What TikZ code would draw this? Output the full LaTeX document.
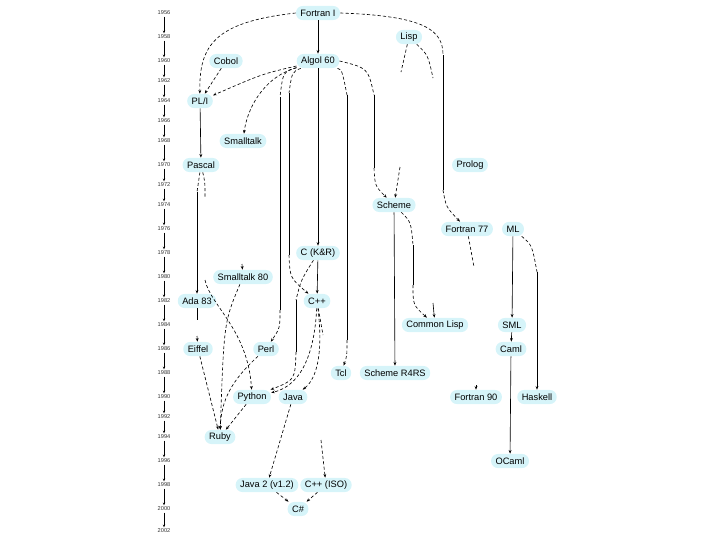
\documentclass[tikz,border=0pt]{standalone}
\usepackage{fontspec}
\setmainfont{Liberation Sans}
\usetikzlibrary{arrows.meta}
\definecolor{langcyan}{RGB}{214,244,249}

\begin{document}
\begin{tikzpicture}[
    x=0.025cm, y=-0.025cm,
    lang/.style={rectangle, rounded corners=4.8pt, fill=langcyan,
        minimum height=10pt, inner xsep=3.2pt, inner ysep=0pt,
        font=\fontsize{6.6}{7}\selectfont},
    year/.style={inner sep=1pt, font=\fontsize{4}{4}\selectfont,
        text=black!80},
    timeline/.style={draw=black, line width=0.5pt,
        -{Stealth[length=2pt,width=1.6pt]}},
    trunk/.style={draw=black, line width=0.45pt},
    link/.style={draw=black, line width=0.45pt,
        dash pattern=on 2.2pt off 1.6pt},
    headed/.style={-{Stealth[length=2.6pt,width=2pt]}}
]
\useasboundingbox (0,0) rectangle (720,540);

% time axis
\node[year] (y1956) at (164, 13) {1956};
\node[year] (y1958) at (164, 37) {1958};
\node[year] (y1960) at (164, 61) {1960};
\node[year] (y1962) at (164, 81) {1962};
\node[year] (y1964) at (164,101) {1964};
\node[year] (y1966) at (164,121) {1966};
\node[year] (y1968) at (164,141) {1968};
\node[year] (y1970) at (164,165) {1970};
\node[year] (y1972) at (164,185) {1972};
\node[year] (y1974) at (164,205) {1974};
\node[year] (y1976) at (164,229) {1976};
\node[year] (y1978) at (164,253) {1978};
\node[year] (y1980) at (164,277) {1980};
\node[year] (y1982) at (164,301) {1982};
\node[year] (y1984) at (164,325) {1984};
\node[year] (y1986) at (164,349) {1986};
\node[year] (y1988) at (164,373) {1988};
\node[year] (y1990) at (164,397) {1990};
\node[year] (y1992) at (164,417) {1992};
\node[year] (y1994) at (164,437) {1994};
\node[year] (y1996) at (164,461) {1996};
\node[year] (y1998) at (164,485) {1998};
\node[year] (y2000) at (164,509) {2000};
\node[year] (y2002) at (164,531) {2002};
\draw[timeline] (y1956) -- (y1958);
\draw[timeline] (y1958) -- (y1960);
\draw[timeline] (y1960) -- (y1962);
\draw[timeline] (y1962) -- (y1964);
\draw[timeline] (y1964) -- (y1966);
\draw[timeline] (y1966) -- (y1968);
\draw[timeline] (y1968) -- (y1970);
\draw[timeline] (y1970) -- (y1972);
\draw[timeline] (y1972) -- (y1974);
\draw[timeline] (y1974) -- (y1976);
\draw[timeline] (y1976) -- (y1978);
\draw[timeline] (y1978) -- (y1980);
\draw[timeline] (y1980) -- (y1982);
\draw[timeline] (y1982) -- (y1984);
\draw[timeline] (y1984) -- (y1986);
\draw[timeline] (y1986) -- (y1988);
\draw[timeline] (y1988) -- (y1990);
\draw[timeline] (y1990) -- (y1992);
\draw[timeline] (y1992) -- (y1994);
\draw[timeline] (y1994) -- (y1996);
\draw[timeline] (y1996) -- (y1998);
\draw[timeline] (y1998) -- (y2000);
\draw[timeline] (y2000) -- (y2002);

% languages
\node[lang] (fortranI)  at (318, 13) {Fortran I};
\node[lang] (lisp)      at (409, 37) {Lisp};
\node[lang] (cobol)     at (226, 61) {Cobol};
\node[lang] (algol)     at (318, 61) {Algol 60};
\node[lang] (pli)       at (200,101) {PL/I};
\node[lang] (smalltalk) at (243,141) {Smalltalk};
\node[lang] (pascal)    at (201,165) {Pascal};
\node[lang] (prolog)    at (470,165) {Prolog};
\node[lang] (scheme)    at (394,205) {Scheme};
\node[lang] (fortranS)  at (467,229) {Fortran 77};
\node[lang] (ml)        at (513,229) {ML};
\node[lang] (ckr)       at (318,253) {C (K\&R)};
\node[lang] (st80)      at (243,277) {Smalltalk 80};
\node[lang] (ada)       at (197,301) {Ada 83};
\node[lang] (cpp)       at (317,301) {C++};
\node[lang] (clisp)     at (435,325) {Common Lisp};
\node[lang] (sml)       at (512,325) {SML};
\node[lang] (eiffel)    at (198,349) {Eiffel};
\node[lang] (perl)      at (266,349) {Perl};
\node[lang] (caml)      at (511,349) {Caml};
\node[lang] (tcl)       at (341,373) {Tcl};
\node[lang] (r4rs)      at (395,373) {Scheme R4RS};
\node[lang] (python)    at (252,397) {Python};
\node[lang] (java)      at (293,397) {Java};
\node[lang] (f90)       at (476,397) {Fortran 90};
\node[lang] (haskell)   at (537,397) {Haskell};
\node[lang] (ruby)      at (220,437) {Ruby};
\node[lang] (ocaml)     at (510,461) {OCaml};
\node[lang] (java2)     at (267,485) {Java 2 (v1.2)};
\node[lang] (cppiso)    at (326,485) {C++ (ISO)};
\node[lang] (csharp)    at (298,509) {C\#};

% bends and loose ends of the long connectors
\coordinate (f77A) at (443, 55);  \coordinate (f77B) at (443,190);
\coordinate (perlA) at (280, 97); \coordinate (perlB) at (280,310);
\coordinate (cppA) at (289, 93);  \coordinate (cppB) at (289,255);
\coordinate (pyA) at (296,300);   \coordinate (pyB) at (296,352);
\coordinate (tclA) at (347, 95);  \coordinate (tclB) at (347,340);
\coordinate (schA) at (374, 95);  \coordinate (schB) at (374,168);
\coordinate (lsA) at (401, 72);   \coordinate (lsB) at (400,167);
\coordinate (lcA) at (433, 78);   \coordinate (lcB) at (433,303);
\coordinate (scA) at (413,245);   \coordinate (scB) at (413,285);
\coordinate (ffA) at (474,267);   \coordinate (ffB) at (476,385);
\coordinate (hsA) at (537,272);
\coordinate (adaA) at (197,192);
\coordinate (aeA) at (197,320);   \coordinate (aeB) at (197,336);
\coordinate (ppA) at (205,197);   \coordinate (ppB) at (205,280);
\coordinate (ssA) at (242,264);
\coordinate (isoA) at (323,335);  \coordinate (isoB) at (321,440);

\draw[trunk, headed] (fortranI) -- (algol);
\draw[trunk, headed] (algol) -- (ckr);
\draw[trunk, headed] (ckr) -- (cpp);
\draw[link, headed] (fortranI.west) .. controls (215,22) and (199,45) .. (pli);
\draw[link] (fortranI.east) .. controls (425,16) and (443,30) .. (f77A);
\draw[trunk] (f77A) -- (f77B);
\draw[link, headed] (f77B) .. controls (446,207) .. (fortranS);
\draw[link, headed] (cobol) -- (pli);
\draw[link, headed] (algol) .. controls (262,74) .. (pli);
\draw[link, headed] (algol) .. controls (262,78) and (247,110) .. (smalltalk);
\draw[link] (algol) .. controls (283,72) .. (perlA);
\draw[trunk] (perlA) -- (perlB);
\draw[link, headed] (perlB) .. controls (280,328) .. (perl);
\draw[link] (algol) .. controls (292,72) .. (cppA);
\draw[trunk] (cppA) -- (cppB);
\draw[link, headed] (cppB) .. controls (290,278) .. (cpp);
\draw[link] (ckr) .. controls (301,280) .. (pyA);
\draw[trunk] (pyA) -- (pyB);
\draw[link, headed] (pyB) .. controls (295,380) .. (python);
\draw[link] (algol) .. controls (342,70) .. (tclA);
\draw[trunk] (tclA) -- (tclB);
\draw[link, headed] (tclB) .. controls (347,356) .. (tcl);
\draw[link] (algol.east) .. controls (368,68) .. (schA);
\draw[trunk] (schA) -- (schB);
\draw[link, headed] (schB) .. controls (375,186) .. (scheme);
\draw[link] (lisp) -- (lsA);
\draw[link, headed] (lsB) -- (scheme);
\draw[link] (lisp) .. controls (428,55) .. (lcA);
\draw[trunk, headed] (lcB) -- (clisp);
\draw[link] (scheme) .. controls (411,222) .. (scA);
\draw[trunk] (scA) -- (scB);
\draw[link, headed] (scB) .. controls (413,305) .. (clisp);
\draw[trunk, headed] (scheme) -- (r4rs);
\draw[link] (fortranS) -- (ffA);
\draw[trunk, headed] (ffB) -- (f90);
\draw[trunk, headed] (ml) -- (sml);
\draw[link] (ml) .. controls (532,245) .. (hsA);
\draw[trunk, headed] (hsA) -- (haskell);
\draw[trunk, headed] (sml) -- (caml);
\draw[trunk, headed] (caml) -- (ocaml);
\draw[trunk, headed] (pli) -- (pascal);
\draw[link] (pascal) -- (adaA);
\draw[trunk, headed] (adaA) -- (ada);
\draw[trunk] (ada) -- (aeA);
\draw[trunk, headed] (aeB) -- (eiffel);
\draw[link] (pascal) .. controls (205,182) .. (ppA);
\draw[link, headed] (ppB) .. controls (210,305) and (248,330) .. (python);
\draw[trunk, headed] (ssA) -- (st80);
\draw[link, headed] (st80) .. controls (224,322) .. (ruby);
\draw[link, headed] (eiffel) -- (ruby);
\draw[link, headed] (perl) .. controls (232,380) and (221,400) .. (ruby);
\draw[link, headed] (python) -- (ruby);
\draw[link, headed] (cpp) .. controls (315,345) and (305,385) .. (python);
\draw[link, headed] (cpp) .. controls (323,350) and (318,378) .. (java);
\draw[link] (cpp) -- (isoA);
\draw[link, headed] (isoB) -- (cppiso);
\draw[link, headed] (java) -- (java2);
\draw[link, headed] (java2) -- (csharp);
\draw[link, headed] (cppiso) -- (csharp);
\end{tikzpicture}
\end{document}
